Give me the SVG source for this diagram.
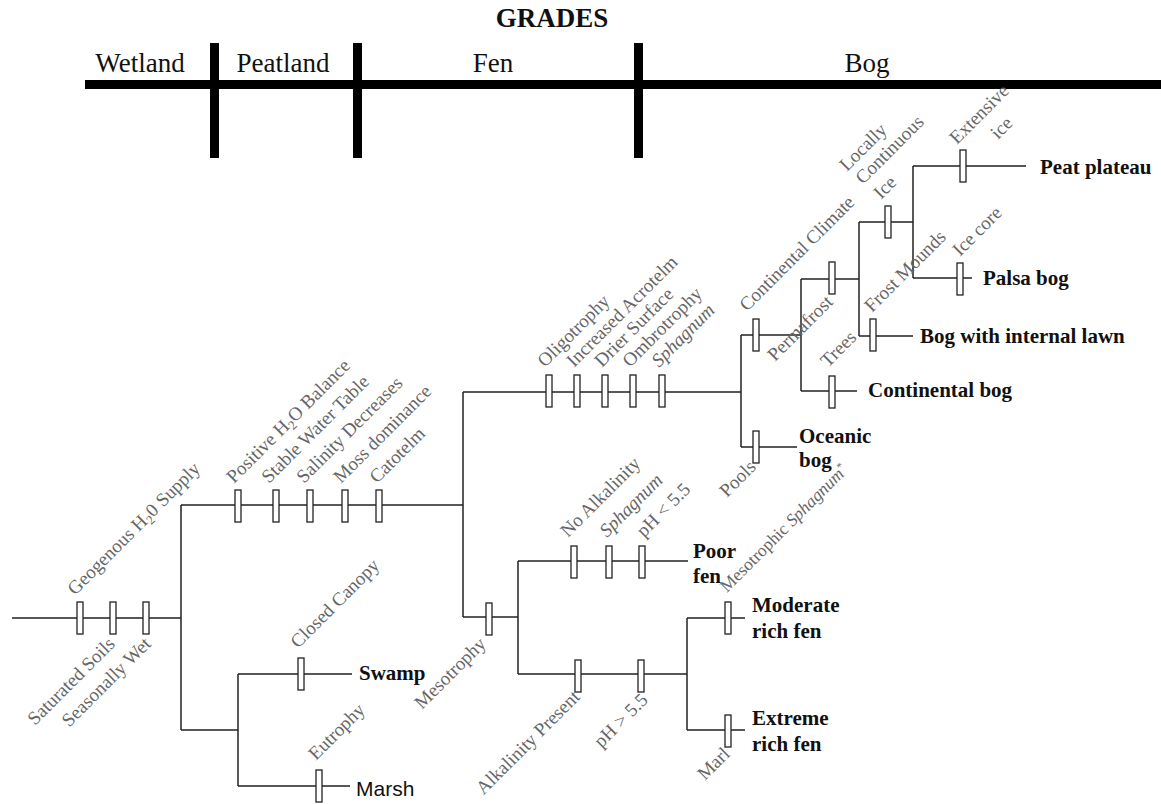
<svg xmlns="http://www.w3.org/2000/svg" width="1161" height="804" viewBox="0 0 1161 804">
<style>
.ln{stroke:#222;stroke-width:1.5;fill:none}
.tk{fill:#fff;stroke:#222;stroke-width:1.3}
.lb{font-family:"Liberation Serif","Times New Roman",serif;font-size:19px;fill:#666}
.sm{font-size:17.5px}
.it{font-style:italic}
.nd{font-family:"Liberation Serif","Times New Roman",serif;font-size:21px;font-weight:bold;fill:#111}
.ns{font-family:"Liberation Sans",Arial,sans-serif;font-size:21px;fill:#111}
.gr{font-family:"Liberation Serif","Times New Roman",serif;font-size:27px;fill:#111;text-anchor:middle}
.bar{fill:#000}
</style>
<rect width="1161" height="804" fill="#fff"/>
<g id="grades">
<text x="552" y="27" class="gr" font-weight="bold" font-size="25">GRADES</text>
<rect class="bar" x="85" y="80" width="1076" height="9"/>
<rect class="bar" x="210" y="43" width="9" height="115"/>
<rect class="bar" x="353" y="43" width="9" height="115"/>
<rect class="bar" x="634" y="43" width="9" height="115"/>
<text x="140" y="72" class="gr">Wetland</text>
<text x="283" y="72" class="gr">Peatland</text>
<text x="493" y="72" class="gr">Fen</text>
<text x="867" y="72" class="gr">Bog</text>
</g>
<g id="connectors" class="ln">
<path d="M12,618H181M181,505V730M181,505H463M181,730H238M238,674V786M238,674H352M238,786H350"/>
<path d="M463,392V617M463,392H741M463,617H518M518,561V674M518,561H688M518,674H687M687,618V730M687,618H745M687,730H745"/>
<path d="M741,335V447M741,335H801M741,447H797M801,279V391M801,279H859M801,391H857M859,222V336M859,222H913M859,336H913M913,166V278M913,166H1026M913,278H972"/>
</g>
<g id="ticks">
<rect class="tk" x="77" y="602" width="6" height="32"/>
<rect class="tk" x="110" y="602" width="6" height="32"/>
<rect class="tk" x="143" y="602" width="6" height="32"/>
<rect class="tk" x="235" y="490" width="6" height="32"/>
<rect class="tk" x="273" y="490" width="6" height="32"/>
<rect class="tk" x="307" y="490" width="6" height="32"/>
<rect class="tk" x="342" y="490" width="6" height="32"/>
<rect class="tk" x="376" y="490" width="6" height="32"/>
<rect class="tk" x="298" y="658" width="6" height="32"/>
<rect class="tk" x="316" y="770" width="6" height="32"/>
<rect class="tk" x="546" y="375" width="6" height="32"/>
<rect class="tk" x="574" y="375" width="6" height="32"/>
<rect class="tk" x="602" y="375" width="6" height="32"/>
<rect class="tk" x="630" y="375" width="6" height="32"/>
<rect class="tk" x="659" y="375" width="6" height="32"/>
<rect class="tk" x="486" y="603" width="6" height="32"/>
<rect class="tk" x="571" y="546" width="6" height="32"/>
<rect class="tk" x="606" y="546" width="6" height="32"/>
<rect class="tk" x="639" y="546" width="6" height="32"/>
<rect class="tk" x="575" y="660" width="6" height="32"/>
<rect class="tk" x="638" y="660" width="6" height="32"/>
<rect class="tk" x="725" y="602" width="6" height="32"/>
<rect class="tk" x="725" y="715" width="6" height="32"/>
<rect class="tk" x="753" y="319" width="6" height="32"/>
<rect class="tk" x="753" y="431" width="6" height="32"/>
<rect class="tk" x="829" y="262" width="6" height="32"/>
<rect class="tk" x="829" y="376" width="6" height="32"/>
<rect class="tk" x="885" y="206" width="6" height="32"/>
<rect class="tk" x="870" y="319" width="6" height="32"/>
<rect class="tk" x="960" y="150" width="6" height="32"/>
<rect class="tk" x="957" y="263" width="6" height="32"/>
</g>
<g id="trunk-labels" class="lb">
<text transform="translate(75,596) rotate(-45)">Geogenous H<tspan font-size="13" dy="4">2</tspan><tspan dy="-4">0 Supply</tspan></text>
<text transform="translate(116,645) rotate(-45)" text-anchor="end">Saturated Soils</text>
<text transform="translate(152,645) rotate(-45)" text-anchor="end">Seasonally Wet</text>
</g>
<g id="peat-labels" class="lb">
<text transform="translate(234,484) rotate(-45)">Positive H<tspan font-size="13" dy="4">2</tspan><tspan dy="-4">O Balance</tspan></text>
<text transform="translate(269,484) rotate(-45)">Stable Water Table</text>
<text transform="translate(304,484) rotate(-45)">Salinity Decreases</text>
<text transform="translate(341,484) rotate(-45)">Moss dominance</text>
<text transform="translate(377,484) rotate(-45)">Catotelm</text>
</g>
<g id="swamp-labels" class="lb">
<text transform="translate(298,649) rotate(-45)">Closed Canopy</text>
<text transform="translate(316,761) rotate(-45)">Eutrophy</text>
</g>
<g id="fen-labels" class="lb">
<text transform="translate(545,368) rotate(-45)">Oligotrophy</text>
<text transform="translate(574,368) rotate(-45)">Increased Acrotelm</text>
<text transform="translate(602,368) rotate(-45)">Drier Surface</text>
<text transform="translate(630,368) rotate(-45)">Ombrotrophy</text>
<text transform="translate(659,368) rotate(-45)" class="it">Sphagnum</text>
<text transform="translate(487,645) rotate(-45)" text-anchor="end">Mesotrophy</text>
<text transform="translate(568,538) rotate(-45)">No Alkalinity</text>
<text transform="translate(607,538) rotate(-45)" class="it">Sphagnum</text>
<text transform="translate(644,538) rotate(-45)">pH &lt; 5.5</text>
<text transform="translate(581,698) rotate(-45)" text-anchor="end">Alkalinity Present</text>
<text transform="translate(649,701) rotate(-45)" text-anchor="end">pH &gt; 5.5</text>
<text transform="translate(727,593) rotate(-45)" class="sm">Mesotrophic <tspan class="it">Sphagnum</tspan><tspan font-size="11" dy="-6">*</tspan></text>
<text transform="translate(731,755) rotate(-45)" text-anchor="end">Marl</text>
</g>
<g id="bog-labels" class="lb">
<text transform="translate(747,312) rotate(-45)">Continental Climate</text>
<text transform="translate(757,468) rotate(-45)" text-anchor="end">Pools</text>
<text transform="translate(775,362) rotate(-45)">Permafrost</text>
<text transform="translate(828,368) rotate(-45)">Trees</text>
<text transform="translate(872,313) rotate(-45)">Frost Mounds</text>
<text transform="translate(847,172) rotate(-45)">Locally</text>
<text transform="translate(863,185) rotate(-45)">Continuous</text>
<text transform="translate(881,200) rotate(-45)">Ice</text>
<text transform="translate(957,145) rotate(-45)">Extensive</text>
<text transform="translate(998,140) rotate(-45)">ice</text>
<text transform="translate(960,257) rotate(-45)">Ice core</text>
</g>
<g id="node-swamp"><text x="359" y="680" class="nd">Swamp</text></g>
<g id="node-marsh"><text x="356" y="796" class="ns">Marsh</text></g>
<g id="node-poor-fen"><text x="693" y="558" class="nd">Poor</text><text x="693" y="583" class="nd">fen</text></g>
<g id="node-moderate-rich-fen"><text x="752" y="612" class="nd">Moderate</text><text x="752" y="638" class="nd">rich fen</text></g>
<g id="node-extreme-rich-fen"><text x="752" y="725" class="nd">Extreme</text><text x="752" y="751" class="nd">rich fen</text></g>
<g id="node-oceanic-bog"><text x="799" y="443" class="nd">Oceanic</text><text x="799" y="467" class="nd">bog</text></g>
<g id="node-continental-bog"><text x="868" y="397" class="nd">Continental bog</text></g>
<g id="node-bog-lawn"><text x="920" y="343" class="nd">Bog with internal lawn</text></g>
<g id="node-palsa-bog"><text x="983" y="285" class="nd">Palsa bog</text></g>
<g id="node-peat-plateau"><text x="1040" y="174" class="nd">Peat plateau</text></g>
</svg>
